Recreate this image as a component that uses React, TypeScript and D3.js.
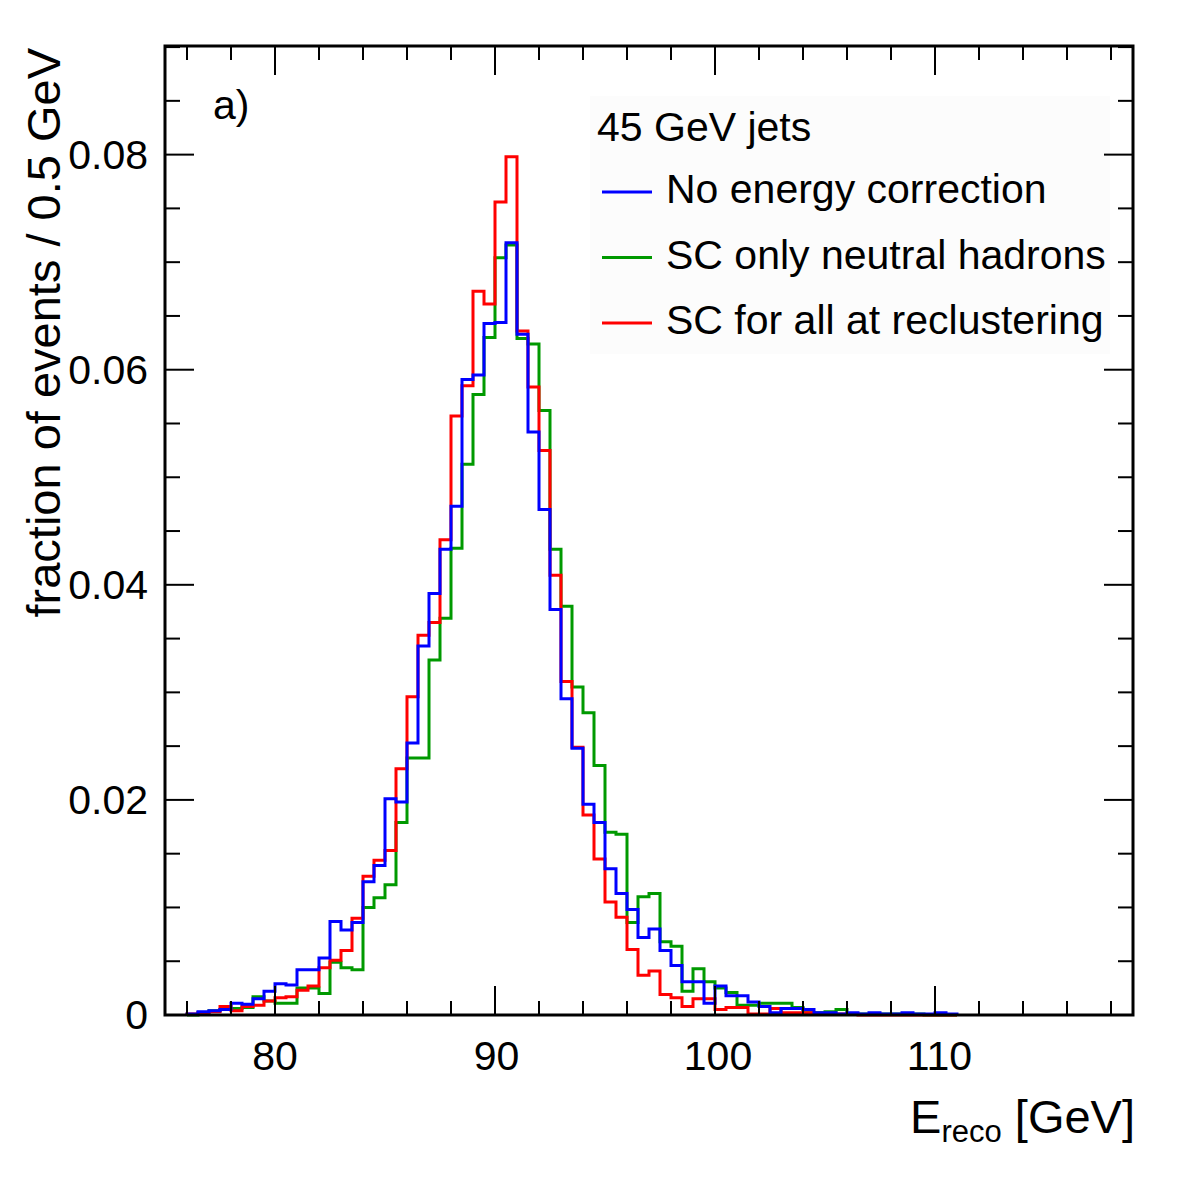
import React from "react";
import * as d3 from "d3";

// Histogram binning: 0.5 GeV bins starting at 76 GeV
const binStart = 76;
const binWidth = 0.5;

// Fraction of events per bin, E_reco from 76 to 111 GeV
const noCorrection = [
  0.0001, 0.0003, 0.0004, 0.0005, 0.0011, 0.0010, 0.0015, 0.0022, 0.0029, 0.0028,
  0.0042, 0.0042, 0.0053, 0.0087, 0.0079, 0.0086, 0.0124, 0.0139, 0.0201, 0.0198,
  0.0253, 0.0343, 0.0392, 0.0433, 0.0473, 0.0591, 0.0595, 0.0643, 0.0644, 0.0718,
  0.0633, 0.0542, 0.0470, 0.0377, 0.0294, 0.0248, 0.0196, 0.0179, 0.0136, 0.0113,
  0.0098, 0.0072, 0.0080, 0.0060, 0.0046, 0.0031, 0.0031, 0.0011, 0.0027, 0.0018,
  0.0018, 0.0012, 0.0008, 0.0002, 0.0006, 0.0006, 0.0005, 0.0002, 0.0002, 0.0001,
  0.0002, 0.0001, 0.0002, 0.0001, 0.0001, 0.0002, 0.0001, 0.0001, 0.0002, 0.0001,
];

const scNeutralHadrons = [
  0.0000, 0.0002, 0.0004, 0.0005, 0.0006, 0.0007, 0.0017, 0.0013, 0.0011, 0.0011,
  0.0025, 0.0025, 0.0020, 0.0049, 0.0044, 0.0042, 0.0100, 0.0109, 0.0121, 0.0179,
  0.0239, 0.0239, 0.0330, 0.0369, 0.0434, 0.0512, 0.0577, 0.0630, 0.0704, 0.0716,
  0.0629, 0.0624, 0.0562, 0.0433, 0.0380, 0.0305, 0.0281, 0.0232, 0.0170, 0.0168,
  0.0086, 0.0110, 0.0113, 0.0068, 0.0064, 0.0022, 0.0043, 0.0031, 0.0025, 0.0021,
  0.0009, 0.0009, 0.0011, 0.0011, 0.0011, 0.0007, 0.0002, 0.0002, 0.0003, 0.0005,
  0.0001, 0.0001, 0.0001, 0.0001, 0.0001, 0.0001, 0.0001, 0.0000, 0.0000, 0.0000,
];

const scAllReclustering = [
  0.0001, 0.0002, 0.0003, 0.0008, 0.0004, 0.0008, 0.0009, 0.0013, 0.0016, 0.0017,
  0.0023, 0.0027, 0.0044, 0.0051, 0.0060, 0.0090, 0.0129, 0.0144, 0.0153, 0.0229,
  0.0296, 0.0353, 0.0365, 0.0442, 0.0557, 0.0585, 0.0673, 0.0661, 0.0756, 0.0798,
  0.0636, 0.0584, 0.0525, 0.0409, 0.0310, 0.0249, 0.0186, 0.0145, 0.0105, 0.0091,
  0.0061, 0.0037, 0.0041, 0.0019, 0.0016, 0.0008, 0.0015, 0.0015, 0.0005, 0.0007,
  0.0007, 0.0001, 0.0001, 0.0006, 0.0002, 0.0002, 0.0002, 0.0001, 0.0001, 0.0001,
  0.0001, 0.0000, 0.0000, 0.0000, 0.0000, 0.0000, 0.0000, 0.0000, 0.0000, 0.0000,
];

const seriesNames = [
  "No energy correction",
  "SC only neutral hadrons",
  "SC for all at reclustering",
];
const seriesColors = ["#0000ff", "#009900", "#ff0000"];

const xTickLabels = [80, 90, 100, 110];
const yTickLabels = [0, 0.02, 0.04, 0.06, 0.08];

const W = 1182;
const H = 1182;
const left = 165;
const right = 1133;
const top = 46;
const bottom = 1015;
const FONT = "'Liberation Sans', Arial, Helvetica, sans-serif";

export default function App() {
  const x = d3.scaleLinear().domain([75, 119]).range([left, right]);
  const y = d3.scaleLinear().domain([0, 0.0901]).range([bottom, top]);

  const stepLine = d3
    .line<[number, number]>()
    .x((d) => x(d[0]))
    .y((d) => y(d[1]))
    .curve(d3.curveStepAfter);

  const histPath = (vals: number[]) => {
    const pts: [number, number][] = [[binStart, 0]];
    vals.forEach((v, i) => pts.push([binStart + i * binWidth, v]));
    pts.push([binStart + vals.length * binWidth, vals[vals.length - 1]]);
    pts.push([binStart + vals.length * binWidth, 0]);
    return stepLine(pts) ?? "";
  };

  const xMinor = d3.range(76, 119, 2);
  const yMinor = d3.range(0, 0.0901, 0.005);

  // Drawing order: green, red, then blue on top
  const drawOrder = [
    { vals: scNeutralHadrons, color: seriesColors[1] },
    { vals: scAllReclustering, color: seriesColors[2] },
    { vals: noCorrection, color: seriesColors[0] },
  ];

  return (
    <svg width={W} height={H} style={{ display: "block", position: "absolute", left: 0, top: 0 }}>
      <rect x={0} y={0} width={W} height={H} fill="#ffffff" />

      {/* legend box */}
      <rect x={590} y={96} width={520} height={258} fill="#fcfcfc" />

      {/* histograms */}
      {drawOrder.map((s, i) => (
        <path key={i} d={histPath(s.vals)} fill="none" stroke={s.color} strokeWidth={3} strokeLinejoin="miter" />
      ))}

      {/* ticks */}
      <g stroke="#000" strokeWidth={2}>
        {xMinor.map((v) => {
          const major = v % 10 === 0;
          const len = major ? 29 : 14;
          return (
            <g key={"xt" + v}>
              <line x1={x(v)} x2={x(v)} y1={bottom} y2={bottom - len} />
              <line x1={x(v)} x2={x(v)} y1={top} y2={top + len} />
            </g>
          );
        })}
        {yMinor.map((v, i) => {
          const major = i % 4 === 0;
          const len = major ? 29 : 15;
          return (
            <g key={"yt" + i}>
              <line x1={left} x2={left + len} y1={y(v)} y2={y(v)} />
              <line x1={right} x2={right - len} y1={y(v)} y2={y(v)} />
            </g>
          );
        })}
      </g>

      {/* frame */}
      <rect x={left} y={top} width={right - left} height={bottom - top} fill="none" stroke="#000" strokeWidth={3} />

      {/* tick labels */}
      <g fontFamily={FONT} fontSize={41} fill="#000">
        {xTickLabels.map((v) => (
          <text key={"xl" + v} x={x(v) + (v - 80) * 0.15} y={1070} textAnchor="middle">
            {v}
          </text>
        ))}
        {yTickLabels.map((v) => (
          <text key={"yl" + v} x={148} y={y(v) + 14} textAnchor="end">
            {v === 0 ? "0" : v.toFixed(2)}
          </text>
        ))}
      </g>

      {/* axis titles */}
      <text x={1135} y={1133} textAnchor="end" fontFamily={FONT} fontSize={47} fill="#000">
        E<tspan fontSize={31} dy={9}>reco</tspan>
        <tspan dy={-9}> [GeV]</tspan>
      </text>
      <text
        transform={`translate(60, 48) rotate(-90)`}
        textAnchor="end"
        fontFamily={FONT}
        fontSize={47}
        fill="#000"
      >
        fraction of events / 0.5 GeV
      </text>

      {/* panel label */}
      <text x={213} y={119} fontFamily={FONT} fontSize={41} fill="#000">
        a)
      </text>

      {/* legend */}
      <g fontFamily={FONT} fontSize={41} fill="#000">
        <text x={597} y={141}>45 GeV jets</text>
        {seriesNames.map((name, i) => {
          const ly = 192 + i * 65.5;
          return (
            <g key={name}>
              <line x1={602} x2={652} y1={ly} y2={ly} stroke={seriesColors[i]} strokeWidth={3} />
              <text x={666} y={ly + 11}>{name}</text>
            </g>
          );
        })}
      </g>
    </svg>
  );
}
